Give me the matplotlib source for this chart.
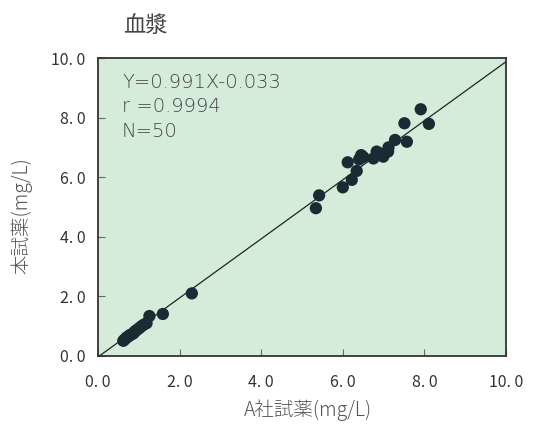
import matplotlib
matplotlib.use("Agg")
import matplotlib.pyplot as plt
import numpy as np

plt.rcParams['font.family'] = ['Noto Sans CJK JP', 'DejaVu Sans']

# data (A社試薬 vs 本試薬, mg/L)
x_vals = [0.62, 0.66, 0.70, 0.74, 0.78, 0.82, 0.87, 0.90, 0.95, 1.00,
          1.05, 1.11, 1.19, 1.26, 1.59, 2.30,
          5.34, 5.42, 6.00, 6.12, 6.22, 6.34, 6.40, 6.45, 6.50,
          6.75, 6.83, 6.90, 6.99, 7.11, 7.12, 7.28, 7.51, 7.57, 7.91, 8.11]
y_vals = [0.51, 0.56, 0.62, 0.65, 0.70, 0.72, 0.76, 0.82, 0.87, 0.92,
          0.98, 1.04, 1.10, 1.34, 1.41, 2.10,
          4.96, 5.39, 5.66, 6.50, 5.91, 6.21, 6.60, 6.74, 6.68,
          6.63, 6.86, 6.80, 6.69, 6.86, 7.00, 7.25, 7.81, 7.19, 8.28, 7.79]
slope = 0.991
intercept = -0.033
r_value = 0.9994
n_count = 50
ticks = [0, 2, 4, 6, 8, 10]

fig = plt.figure(figsize=(5.34, 4.32), dpi=100)
ax = fig.add_axes([0.1835, 0.176, 0.7641, 0.6897])
ax.set_facecolor('#d6ecda')

# regression line
lx = np.array([0, 10])
ax.plot(lx, slope * lx + intercept, color='#222222', lw=0.9, zorder=2)

# points
ax.scatter(x_vals, y_vals, s=78, color='#1b2a33', edgecolors='none', zorder=3)

ax.set_xlim(0, 10)
ax.set_ylim(0, 10)
labels = [f"{t:.1f}".replace('.', '. ') for t in ticks]
ax.set_xticks(ticks)
ax.set_xticklabels(labels)
ax.set_yticks(ticks)
ax.set_yticklabels(labels)
ax.tick_params(direction='in', length=5, width=0.8, color='#666666',
               labelsize=11.5, labelcolor='#333333')
ax.tick_params(axis='x', pad=13)
ax.tick_params(axis='y', pad=9)
for s in ax.spines.values():
    s.set_color('#333333')
    s.set_linewidth(1.3)

txt = dict(fontsize=14, color='#444444', va='center', fontweight='light',
           family='DejaVu Sans')
ax.text(0.59, 9.19, f"Y={slope}X{intercept}", **txt)
ax.text(0.59, 8.36, f"r ={r_value}", **txt)
ax.text(0.59, 7.52, f"N={n_count}", **txt)

fig.text(0.272, 0.942, "血漿", fontsize=16, color='#444444', ha='center', va='center')
lab = dict(fontsize=14, color='#555555', ha='center', va='center', fontweight='light')
fig.text(0.577, 0.051, "A社試薬(mg/L)", **lab)
fig.text(0.041, 0.502, "本試薬(mg/L)", rotation=90, **lab)

fig.savefig("out.png", dpi=100)
